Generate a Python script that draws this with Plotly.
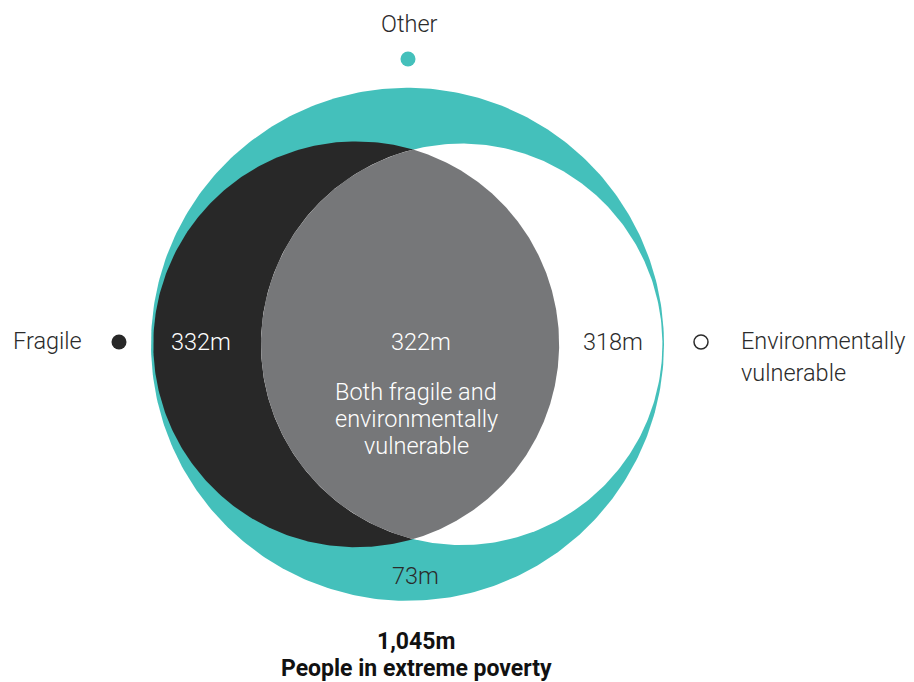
import numpy as np
import plotly.graph_objects as go

# ---- data ----
categories = ["Fragile", "Both fragile and environmentally vulnerable",
              "Environmentally vulnerable", "Other"]
values = [332, 322, 318, 73]          # millions
value_labels = ["332m", "322m", "318m", "73m"]
total = 1045
total_label = "1,045m"
total_title = "People in extreme poverty"

# ---- colours ----
TEAL = "#44c0bb"
DARK = "#282828"
GREY = "#767779"
TEXT = "#2b2b2b"
FONT = "Roboto"
FS = 23.5

# ---- geometry (pixel-like data units) ----
W, H = 914, 682
CX, CY = 407.5, 344.3
R_TOTAL = 256.5

frag_total = values[0] + values[1]
env_total = values[1] + values[2]
r_f = R_TOTAL * np.sqrt(frag_total / total)
r_e = R_TOTAL * np.sqrt(env_total / total)
x_f = CX - R_TOTAL + r_f + 2.3
x_e = CX + R_TOTAL - r_e - 1.6


def circle_pts(cx, cy, r, a0=0, a1=2 * np.pi, n=400):
    t = np.linspace(a0, a1, n)
    return cx + r * np.cos(t), cy + r * np.sin(t)


fig = go.Figure()


def add_fill(xs, ys, color):
    fig.add_trace(go.Scatter(x=list(xs), y=list(ys), mode="lines", fill="toself",
                             fillcolor=color, line=dict(width=0, color=color),
                             hoverinfo="skip", showlegend=False))


# total circle
add_fill(*circle_pts(CX, CY, R_TOTAL), TEAL)
# fragile circle
add_fill(*circle_pts(x_f, CY, r_f), DARK)
# environmental circle
add_fill(*circle_pts(x_e, CY, r_e), "#ffffff")

# intersection lens
d = x_e - x_f
a = (d ** 2 + r_f ** 2 - r_e ** 2) / (2 * d)
th1 = np.arccos(a / r_f)
th2 = np.arccos((d - a) / r_e)
x1, y1 = circle_pts(x_f, CY, r_f, -th1, th1, 300)
x2, y2 = circle_pts(x_e, CY, r_e, np.pi - th2, np.pi + th2, 300)
add_fill(np.concatenate([x1, x2]), np.concatenate([y1, y2]), GREY)

# legend dots
fig.add_trace(go.Scatter(x=[408], y=[59], mode="markers",
                         marker=dict(size=15, color=TEAL, line=dict(width=0)),
                         hoverinfo="skip", showlegend=False))
fig.add_trace(go.Scatter(x=[119], y=[342], mode="markers",
                         marker=dict(size=15, color=DARK, line=dict(width=0)),
                         hoverinfo="skip", showlegend=False))
fig.add_trace(go.Scatter(x=[701], y=[342], mode="markers",
                         marker=dict(size=14, color="#ffffff",
                                     line=dict(width=1.5, color=TEXT)),
                         hoverinfo="skip", showlegend=False))


def ann(x, y, text, color=TEXT, size=FS, xanchor="center", bold=False, weight=300):
    fig.add_annotation(x=x, y=y, xref="x", yref="y", text=text, showarrow=False,
                       xanchor=xanchor, yanchor="middle",
                       font=dict(family=FONT, size=size, color=color,
                                 weight=700 if bold else weight))


ann(409, 24, categories[3])
ann(84, 341, categories[0], xanchor="right")
ann(739, 341, "Environmentally", xanchor="left")
ann(739, 373, "vulnerable", xanchor="left")
ann(201, 342, value_labels[0], color="#ffffff")
ann(421, 342, value_labels[1], color="#ffffff")
ann(416, 392, "Both fragile and", color="#ffffff")
ann(416, 419, "environmentally", color="#ffffff")
ann(416, 446, "vulnerable", color="#ffffff")
ann(613, 342, value_labels[2])
ann(415, 576, value_labels[3])
ann(416, 641, total_label, bold=True, color="#111111", size=23)
ann(416, 668, total_title, bold=True, color="#111111", size=23)

fig.update_layout(
    width=W, height=H, autosize=False,
    margin=dict(l=0, r=0, t=0, b=0),
    paper_bgcolor="#ffffff", plot_bgcolor="#ffffff",
    xaxis=dict(range=[0, W], visible=False, fixedrange=True),
    yaxis=dict(range=[H, 0], visible=False, fixedrange=True),
    showlegend=False,
)

fig.write_html("out.html", config={"displayModeBar": False},
               post_script="document.body.style.margin='0px';")
